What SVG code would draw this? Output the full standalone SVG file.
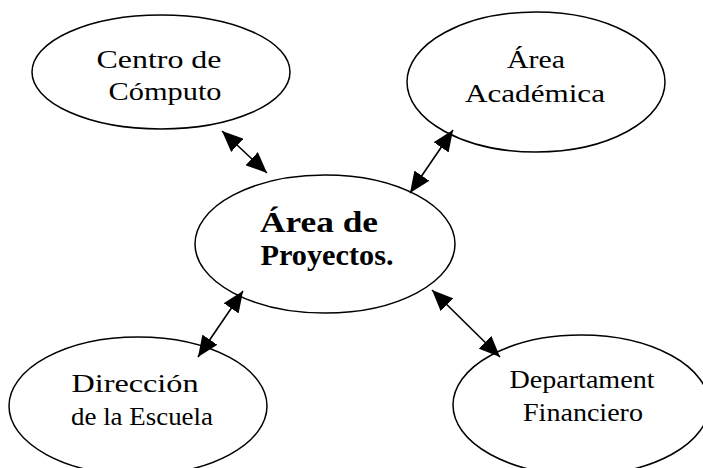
<svg xmlns="http://www.w3.org/2000/svg" width="703" height="468" viewBox="0 0 703 468">
<style>
.n{fill:#fff;stroke:#000;stroke-width:1.5}
.t{font-family:"Liberation Serif","Times New Roman",serif;font-size:26px;fill:#000;text-anchor:middle}
.b{font-weight:bold;font-size:29px}
.c{stroke:#000;stroke-width:1.6;fill:none;marker-start:url(#ah);marker-end:url(#ah)}
</style>
<defs>
<marker id="ah" markerUnits="userSpaceOnUse" markerWidth="22" markerHeight="18" refX="21" refY="9" orient="auto-start-reverse">
<path d="M0,0 L21,9 L0,18 Z" fill="#000"/>
</marker>
</defs>
<rect width="703" height="468" fill="#fff"/>
<g id="n-computo">
<ellipse class="n" cx="161" cy="72" rx="129" ry="57"/>
<text class="t" x="159" y="68" textLength="125" lengthAdjust="spacingAndGlyphs">Centro de</text>
<text class="t" x="165" y="100" textLength="113" lengthAdjust="spacingAndGlyphs">Cómputo</text>
</g>
<g id="n-academica">
<ellipse class="n" cx="536" cy="82" rx="129" ry="70"/>
<text class="t" x="536" y="68" textLength="58" lengthAdjust="spacingAndGlyphs">Área</text>
<text class="t" x="535" y="102" textLength="140" lengthAdjust="spacingAndGlyphs">Académica</text>
</g>
<g id="n-proyectos">
<ellipse class="n" cx="325" cy="244" rx="130" ry="69"/>
<text class="t b" x="319" y="232" textLength="118" lengthAdjust="spacingAndGlyphs">Área de</text>
<text class="t b" x="327" y="265" textLength="133" lengthAdjust="spacingAndGlyphs">Proyectos.</text>
</g>
<g id="n-direccion">
<ellipse class="n" cx="138" cy="406" rx="129" ry="69"/>
<text class="t" x="135" y="392" textLength="127" lengthAdjust="spacingAndGlyphs">Dirección</text>
<text class="t" x="142" y="425" textLength="142" lengthAdjust="spacingAndGlyphs">de la Escuela</text>
</g>
<g id="n-financiero">
<ellipse class="n" cx="581" cy="405" rx="128" ry="70"/>
<text class="t" x="582" y="388" textLength="145" lengthAdjust="spacingAndGlyphs">Departament</text>
<text class="t" x="583" y="421" textLength="120" lengthAdjust="spacingAndGlyphs">Financiero</text>
</g>
<g id="connectors">
<line class="c" x1="222" y1="131" x2="267" y2="173"/>
<line class="c" x1="453" y1="130" x2="410" y2="193"/>
<line class="c" x1="243" y1="291" x2="198" y2="357"/>
<line class="c" x1="432" y1="290" x2="500" y2="357"/>
</g>
</svg>
